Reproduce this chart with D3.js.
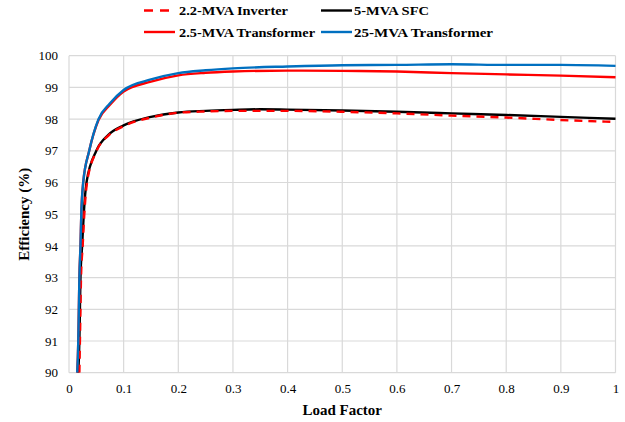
<!DOCTYPE html>
<html><head><meta charset="utf-8">
<script src="https://cdn.jsdelivr.net/npm/d3@7"></script>
<style>
html,body{margin:0;padding:0;background:#fff;}
svg text{font-family:"Liberation Serif","Times New Roman",Times,Tinos,"DejaVu Serif",serif;}
</style></head>
<body><svg id="c" width="625" height="422"></svg>
<script>
const xTicks = [0,0.1,0.2,0.3,0.4,0.5,0.6,0.7,0.8,0.9,1];
const xTickLabels = ["0","0.1","0.2","0.3","0.4","0.5","0.6","0.7","0.8","0.9","1"];
const yTicks = [90,91,92,93,94,95,96,97,98,99,100];

const seriesNames = ["2.2-MVA Inverter","5-MVA SFC","2.5-MVA Transformer","25-MVA Transformer"];

const inverterX = [0.019,0.02,0.021,0.022,0.025,0.028,0.033,0.05,0.072,0.1,0.15,0.2,0.25,0.3,0.4,0.5,0.6,0.7,0.8,0.9,1.0];
const inverterY = [90,91,92,93,94,95,96,96.98,97.48,97.78,98.05,98.2,98.24,98.26,98.26,98.23,98.18,98.11,98.05,97.97,97.91];

const sfcX = [0.017,0.019,0.02,0.021,0.024,0.027,0.032,0.05,0.072,0.1,0.15,0.2,0.25,0.3,0.35,0.4,0.5,0.6,0.7,0.8,0.9,1.0];
const sfcY = [90,91,92,93,94,95,96,97,97.5,97.8,98.07,98.21,98.26,98.29,98.31,98.3,98.27,98.23,98.18,98.13,98.07,98.01];

const tr25X = [0.015,0.017,0.018,0.019,0.021,0.0225,0.026,0.037,0.054,0.075,0.1,0.15,0.2,0.25,0.3,0.4,0.5,0.6,0.7,0.8,0.9,1.0];
const tr25Y = [90,91,92,93,94,95,96,97,97.97,98.45,98.87,99.18,99.38,99.46,99.5,99.53,99.52,99.5,99.45,99.41,99.37,99.32];

const t25X = [0.015,0.017,0.018,0.019,0.021,0.0225,0.026,0.037,0.054,0.075,0.1,0.15,0.2,0.25,0.3,0.4,0.5,0.6,0.7,0.8,0.9,1.0];
const t25Y = [90,91,92,93,94,95,96,97,98,98.5,98.92,99.25,99.45,99.54,99.6,99.66,99.7,99.71,99.73,99.71,99.71,99.68];

const FONT = "'Liberation Serif','Times New Roman',Times,Tinos,'DejaVu Serif',serif";
const svg = d3.select("#c");
const L = 69, R = 615.5, T = 55.7, B = 372.7;
const x = d3.scaleLinear().domain([0,1]).range([L,R]);
const y = d3.scaleLinear().domain([90,100]).range([B,T]);

// gridlines
const grid = svg.append("g");
grid.selectAll("line.h").data(yTicks).enter().append("line")
  .attr("x1",L).attr("x2",R).attr("y1",d=>y(d)).attr("y2",d=>y(d))
  .attr("stroke","#d9d9d9").attr("stroke-width",1.2);
grid.selectAll("line.v").data(xTicks).enter().append("line")
  .attr("y1",T).attr("y2",B).attr("x1",d=>x(d)).attr("x2",d=>x(d))
  .attr("stroke","#d9d9d9").attr("stroke-width",1.2);

// axes labels
const xAxis = d3.axisBottom(x).tickValues(xTicks).tickFormat((d,i)=>xTickLabels[i]).tickSize(0).tickPadding(11);
const gx = svg.append("g").attr("transform",`translate(0,${B})`).call(xAxis).attr("font-family",FONT);
gx.select(".domain").remove();
gx.selectAll("text").attr("font-size","13px").attr("fill","#000").attr("font-family",FONT);

const yAxis = d3.axisLeft(y).tickValues(yTicks).tickFormat(d3.format("d")).tickSize(0).tickPadding(11);
const gy = svg.append("g").attr("transform",`translate(${L},0)`).call(yAxis).attr("font-family",FONT);
gy.select(".domain").remove();
gy.selectAll("text").attr("font-size","13px").attr("fill","#000").attr("font-family",FONT);

// clip
svg.append("clipPath").attr("id","clip").append("rect")
  .attr("x",L).attr("y",T-3).attr("width",R-L+3).attr("height",B-T+3);

const line = d3.line().x(d=>x(d[0])).y(d=>y(d[1])).curve(d3.curveMonotoneX);
const zip = (a,b)=>a.map((v,i)=>[v,b[i]]);

const series = [
  {xs:sfcX, ys:sfcY, color:"#000000", dash:null},
  {xs:inverterX, ys:inverterY, color:"#ff0000", dash:"8,6"},
  {xs:tr25X, ys:tr25Y, color:"#ff0000", dash:null},
  {xs:t25X, ys:t25Y, color:"#0070c0", dash:null}
];
const gl = svg.append("g").attr("clip-path","url(#clip)");
series.forEach(s=>{
  gl.append("path").attr("d",line(zip(s.xs,s.ys)))
    .attr("fill","none").attr("stroke",s.color).attr("stroke-width",2.4)
    .attr("stroke-dasharray",s.dash).attr("stroke-linejoin","round");
});

// axis titles
svg.append("text").attr("x",(L+R)/2).attr("y",415).attr("text-anchor","middle").attr("font-family",FONT)
  .attr("font-size","15px").attr("font-weight","bold").text("Load Factor");
svg.append("text").attr("transform",`translate(29,${(T+B)/2}) rotate(-90)`).attr("text-anchor","middle").attr("font-family",FONT)
  .attr("font-size","15px").attr("font-weight","bold").text("Efficiency (%)");

// legend
const legend = [
  {name:seriesNames[0], color:"#ff0000", dash:"9,7", lx:144, lw:26, ly:10.5, tx:179, tw:109},
  {name:seriesNames[1], color:"#000000", dash:null, lx:321, lw:31, ly:10.5, tx:354, tw:75},
  {name:seriesNames[2], color:"#ff0000", dash:null, lx:144, lw:31, ly:32, tx:179, tw:136},
  {name:seriesNames[3], color:"#0070c0", dash:null, lx:321, lw:31, ly:32, tx:354, tw:139}
];
const lg = svg.append("g");
legend.forEach(l=>{
  lg.append("line").attr("x1",l.lx).attr("x2",l.lx+l.lw).attr("y1",l.ly).attr("y2",l.ly)
    .attr("stroke",l.color).attr("stroke-width",2.4).attr("stroke-dasharray",l.dash);
  lg.append("text").attr("x",l.tx).attr("y",l.ly+4.8).attr("font-family",FONT).attr("font-size","13.5px")
    .attr("font-weight","bold").attr("textLength",l.tw).attr("lengthAdjust","spacingAndGlyphs").text(l.name);
});
</script></body></html>
